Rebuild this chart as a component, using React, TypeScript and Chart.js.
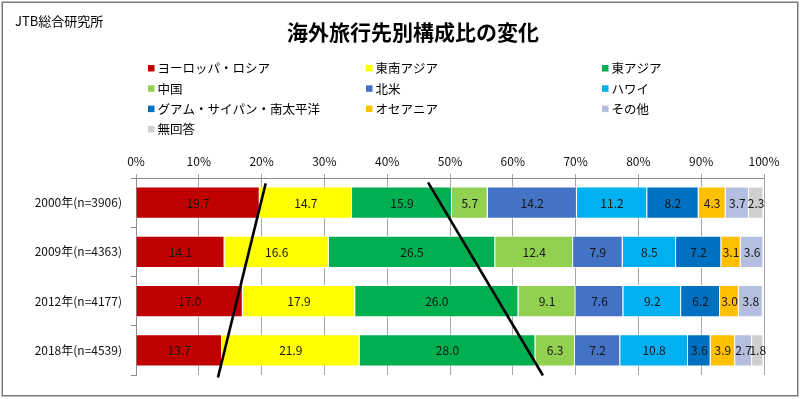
import React, { useEffect, useRef } from 'react';
import { Chart, registerables } from 'chart.js';

Chart.register(...registerables);

// ---------- data ----------
const categories = ['2000年(n=3906)', '2009年(n=4363)', '2012年(n=4177)', '2018年(n=4539)'];

const seriesNames = [
  'ヨーロッパ・ロシア',
  '東南アジア',
  '東アジア',
  '中国',
  '北米',
  'ハワイ',
  'グアム・サイパン・南太平洋',
  'オセアニア',
  'その他',
  '無回答',
];

const europeRussia = [19.7, 14.1, 17.0, 13.7];
const southeastAsia = [14.7, 16.6, 17.9, 21.9];
const eastAsia = [15.9, 26.5, 26.0, 28.0];
const china = [5.7, 12.4, 9.1, 6.3];
const northAmerica = [14.2, 7.9, 7.6, 7.2];
const hawaii = [11.2, 8.5, 9.2, 10.8];
const guamSaipanSouthPacific = [8.2, 7.2, 6.2, 3.6];
const oceania = [4.3, 3.1, 3.0, 3.9];
const others = [3.7, 3.6, 3.8, 2.7];
const noAnswer = [2.3, null, null, 1.8];

const seriesValues = [
  europeRussia,
  southeastAsia,
  eastAsia,
  china,
  northAmerica,
  hawaii,
  guamSaipanSouthPacific,
  oceania,
  others,
  noAnswer,
];

const seriesColors = [
  '#C00000',
  '#FFFF00',
  '#00B050',
  '#92D050',
  '#4472C4',
  '#00B0F0',
  '#0070C0',
  '#FFC000',
  '#B4BEE0',
  '#CFCFCF',
];

const xTickMin = 0;
const xTickMax = 100;
const xTickStep = 10;

// annotation lines, in data units (x = %, y = category index)
const trendLineA = [
  { x: 20.65, y: -0.39 },
  { x: 13.05, y: 3.55 },
];
const trendLineB = [
  { x: 46.5, y: -0.41 },
  { x: 64.8, y: 3.51 },
];
const trendLines = [trendLineA, trendLineB];

const titleText = '海外旅行先別構成比の変化';
const sourceText = 'JTB総合研究所';

// ---------- style ----------
const FONT = "'Noto Sans CJK JP', 'Noto Sans', sans-serif";
const legendColumnX = [148, 366, 602];
const legendTopY = 68;
const legendRowGap = 20.3;

const framePlugin = {
  id: 'framePlugin',
  beforeDraw(chart: any) {
    const ctx = chart.ctx;
    ctx.save();
    ctx.fillStyle = '#ffffff';
    ctx.fillRect(0, 0, chart.width, chart.height);
    ctx.strokeStyle = '#7a7a7a';
    ctx.lineWidth = 1.5;
    ctx.strokeRect(2.25, 2.25, chart.width - 4.5, chart.height - 5.5);
    ctx.restore();
  },
  afterDraw(chart: any) {
    const ctx = chart.ctx;
    ctx.save();
    ctx.fillStyle = '#000000';
    ctx.textBaseline = 'middle';
    ctx.textAlign = 'left';
    ctx.font = `13px ${FONT}`;
    ctx.fillText(sourceText, 15, 21.5);
    ctx.textAlign = 'center';
    ctx.font = `bold 21px ${FONT}`;
    ctx.fillText(titleText, 413, 32);
    ctx.restore();
  },
};

const gridLegendPlugin = {
  id: 'gridLegendPlugin',
  afterDraw(chart: any) {
    const ctx = chart.ctx;
    ctx.save();
    ctx.textBaseline = 'middle';
    ctx.textAlign = 'left';
    ctx.font = `12.5px ${FONT}`;
    chart.data.datasets.forEach((ds: any, i: number) => {
      const col = i % 3;
      const row = Math.floor(i / 3);
      const x = legendColumnX[col];
      const y = legendTopY + row * legendRowGap;
      ctx.fillStyle = ds.backgroundColor;
      ctx.fillRect(x, y - 3, 6.5, 6.5);
      ctx.fillStyle = '#000000';
      ctx.fillText(ds.label, x + 9.5, y + 0.5);
    });
    ctx.restore();
  },
};

const valueLabelPlugin = {
  id: 'valueLabelPlugin',
  afterDatasetsDraw(chart: any) {
    const ctx = chart.ctx;
    ctx.save();
    ctx.textBaseline = 'middle';
    ctx.textAlign = 'center';
    ctx.font = `12px ${FONT}`;
    ctx.fillStyle = '#151515';
    chart.data.datasets.forEach((ds: any, di: number) => {
      const meta = chart.getDatasetMeta(di);
      meta.data.forEach((el: any, j: number) => {
        const v = ds.data[j];
        if (v === null || v === undefined || v === 0) return;
        const p = el.getCenterPoint();
        ctx.fillText(Number(v).toFixed(1), p.x, p.y + 0.5);
      });
    });
    ctx.restore();
  },
};

const trendLinePlugin = {
  id: 'trendLinePlugin',
  afterDatasetsDraw(chart: any) {
    const ctx = chart.ctx;
    const xs = chart.scales.x;
    const ys = chart.scales.y;
    const y0 = ys.getPixelForValue(0);
    const y1 = ys.getPixelForValue(1);
    ctx.save();
    ctx.strokeStyle = '#000000';
    ctx.lineWidth = 2.6;
    ctx.lineCap = 'butt';
    trendLines.forEach((pts) => {
      ctx.beginPath();
      pts.forEach((p, k) => {
        const px = xs.getPixelForValue(p.x);
        const py = y0 + p.y * (y1 - y0);
        if (k === 0) ctx.moveTo(px, py);
        else ctx.lineTo(px, py);
      });
      ctx.stroke();
    });
    ctx.restore();
  },
};

export default function App() {
  const canvasRef = useRef<HTMLCanvasElement | null>(null);

  useEffect(() => {
    if (!canvasRef.current) return;
    const chart = new Chart(canvasRef.current, {
      type: 'bar',
      data: {
        labels: categories,
        datasets: seriesNames.map((name, i) => ({
          label: name,
          data: seriesValues[i] as any,
          backgroundColor: seriesColors[i],
          borderColor: '#ffffff',
          borderWidth: 1,
          categoryPercentage: 0.65,
          barPercentage: 1,
        })),
      },
      options: {
        indexAxis: 'y',
        animation: false,
        responsive: true,
        maintainAspectRatio: false,
        layout: { padding: { top: 148, left: 0, right: 36, bottom: 24 } },
        plugins: {
          legend: { display: false },
          title: { display: false },
          tooltip: { enabled: false },
        },
        scales: {
          x: {
            position: 'top',
            stacked: true,
            min: xTickMin,
            max: xTickMax,
            afterFit(scale: any) {
              scale.height = 30;
            },
            ticks: {
              stepSize: xTickStep,
              callback: (v: any) => `${v}%`,
              color: '#111111',
              font: { family: FONT, size: 12 },
              padding: 5,
              maxRotation: 0,
            },
            grid: {
              color: '#a6a6a6',
              lineWidth: 1,
              tickLength: 4,
              drawOnChartArea: true,
              drawTicks: true,
            },
            border: { display: true, color: '#8c8c8c', width: 1 },
          },
          y: {
            stacked: true,
            afterFit(scale: any) {
              scale.width = 136;
            },
            ticks: {
              color: '#111111',
              font: { family: FONT, size: 12 },
              padding: 9,
            },
            grid: {
              drawOnChartArea: false,
              drawTicks: true,
              tickLength: 5,
              color: '#8c8c8c',
              offset: true,
            },
            border: { display: true, color: '#8c8c8c', width: 1 },
          },
        },
      },
      plugins: [framePlugin, gridLegendPlugin, valueLabelPlugin, trendLinePlugin],
    });
    return () => chart.destroy();
  }, []);

  return (
    <div style={{ position: 'absolute', left: 0, top: 0, width: 800, height: 399 }}>
      <canvas ref={canvasRef} />
    </div>
  );
}
